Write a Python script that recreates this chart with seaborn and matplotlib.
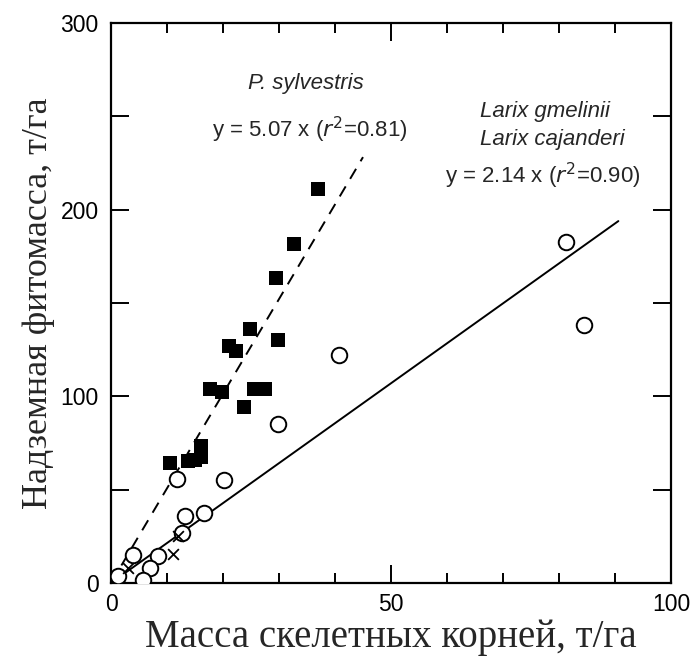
import matplotlib
matplotlib.use("Agg")
import matplotlib.pyplot as plt
from matplotlib.ticker import MultipleLocator
import numpy as np
import pandas as pd
import seaborn as sns

# Scots pine plots (filled squares)
pine_x = [37.0, 32.7, 29.4, 24.9, 29.8, 21.1, 22.4, 17.6, 19.8, 25.5, 27.5,
          23.75, 10.5, 13.8, 15.0, 16.1, 16.1]
pine_y = [211.0, 181.7, 163.5, 136.0, 130.3, 126.9, 124.1, 103.7, 102.1, 103.7,
          103.7, 94.4, 64.4, 65.5, 66.0, 73.4, 67.6]

# Larch plots (open circles)
larch_x = [81.3, 84.5, 40.7, 29.8, 11.7, 20.2, 16.6, 13.2, 12.6, 8.45, 6.96,
           3.97, 5.7, 1.3]
larch_y = [182.5, 138.2, 122.1, 85.2, 55.5, 55.0, 37.5, 35.7, 27.0, 14.5, 7.9,
           15.0, 1.6, 3.75]

# Additional plots (crosses)
other_x = [3.1, 11.0, 12.0]
other_y = [7.9, 15.4, 25.2]

# Regression slopes through the origin and the extent of each line
pine_slope, pine_xmax = 5.07, 45.0
larch_slope, larch_xmax = 2.14, 90.6

x_ticks = [0, 50, 100]
y_ticks = [0, 100, 200, 300]

sns.set_theme(style="ticks")
plt.rcParams["font.family"] = ["Liberation Sans", "DejaVu Sans"]

W, H = 694, 659
fig = plt.figure(figsize=(W / 100, H / 100), dpi=100)
ax = fig.add_axes([111 / W, 76 / H, 560 / W, 560 / H])

pine = pd.DataFrame({"x": pine_x, "y": pine_y})
larch = pd.DataFrame({"x": larch_x, "y": larch_y})
other = pd.DataFrame({"x": other_x, "y": other_y})

fit_pine = pd.DataFrame({"x": [0.0, pine_xmax]})
fit_pine["y"] = pine_slope * fit_pine["x"]
fit_larch = pd.DataFrame({"x": [0.0, larch_xmax]})
fit_larch["y"] = larch_slope * fit_larch["x"]

sns.lineplot(data=fit_larch, x="x", y="y", ax=ax, color="black", lw=1.4)
sns.lineplot(data=fit_pine, x="x", y="y", ax=ax, color="black", lw=1.4,
             linestyle=(0, (6, 4.5)))

sns.scatterplot(data=larch, x="x", y="y", ax=ax, marker="o", s=125,
                facecolor="white", edgecolor="black", linewidth=1.4, zorder=3)
sns.scatterplot(data=pine, x="x", y="y", ax=ax, marker="s", s=115,
                color="black", edgecolor="black", linewidth=0, zorder=4)
sns.scatterplot(data=other, x="x", y="y", ax=ax, marker="x", s=60,
                color="black", linewidth=1.3, zorder=4)

ax.set_xlim(0, 100)
ax.set_ylim(0, 300)
ax.set_xticks(x_ticks)
ax.set_yticks(y_ticks)
ax.xaxis.set_minor_locator(MultipleLocator(10))
ax.yaxis.set_minor_locator(MultipleLocator(50))
ax.tick_params(axis="both", which="both", direction="in", top=True,
               right=True, width=1.4, colors="black", labelsize=16.5)
ax.tick_params(axis="x", which="major", length=13, pad=7)
ax.tick_params(axis="x", which="minor", length=7)
ax.tick_params(axis="y", which="both", length=13, pad=9)
for sp in ax.spines.values():
    sp.set_linewidth(1.6)
    sp.set_color("black")

serif = ["Liberation Serif", "DejaVu Serif"]
ax.set_xlabel("Масса скелетных корней, т/га", family=serif, fontsize=28,
              labelpad=2)
ax.set_ylabel("Надземная фитомасса, т/га", family=serif, fontsize=26,
              labelpad=4)


def label(px, py, s, **kw):
    # place text by pixel position measured from the top-left corner
    ax.text(px, H - py, s, transform=None, fontsize=16, va="center", **kw)


label(306, 83, "P. sylvestris", style="italic", ha="center")
label(310, 130, r"y = 5.07 x ($\it{r}^2$=0.81)", ha="center")
label(480, 112, "Larix gmelinii", style="italic", ha="left")
label(480, 139, "Larix cajanderi", style="italic", ha="left")
label(543, 176, r"y = 2.14 x ($\it{r}^2$=0.90)", ha="center")

fig.savefig("out.png", dpi=100)
